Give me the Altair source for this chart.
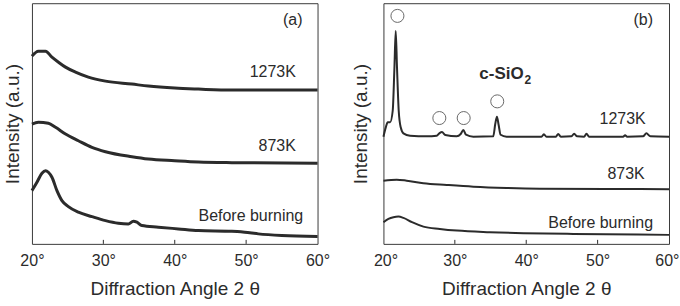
import altair as alt
import pandas as pd

FONT = "Liberation Sans"
INK = "#2b2b2b"

# ---------------- Panel (a) ----------------
a_1273_angle = [20.0, 20.9, 21.9, 22.8, 23.7, 24.7, 26.1, 27.9, 30.3, 34.0, 36.3, 40.0, 43.3, 48.0, 60.0]
a_1273_int = [188, 193, 193, 187, 182, 177, 172, 167, 163, 160, 158, 156, 155, 154, 154]

a_873_angle = [20.0, 20.9, 22.3, 23.3, 24.7, 26.5, 28.4, 30.3, 34.0, 36.3, 40.0, 43.3, 48.0, 60.0]
a_873_int = [120, 121.7, 120.7, 116.7, 110, 103.3, 96.7, 92.3, 87.3, 85, 83.3, 82, 81.3, 80.7]

a_bb_angle = [20.0, 20.7, 21.4, 21.9, 22.3, 22.8, 23.5, 24.2, 25.1, 26.5, 28.4, 30.3, 32.1, 33.5,
              34.2, 34.7, 35.4, 37.7, 40.5, 43.3, 48.0, 49.8, 51.7, 55.0, 60.0]
a_bb_int = [53.3, 61.7, 70.7, 73.3, 71.7, 66.7, 53.3, 43.3, 37.3, 31.7, 27.3, 23.3, 20.7, 20,
            22.7, 21.7, 18.3, 16.7, 15, 13.3, 12.7, 11.7, 10, 8.3, 7.3]

a_labels = ["1273K", "873K", "Before burning", "(a)"]
a_label_angle = [56.97, 56.97, 58.0, 57.9]
a_label_int = [167.3, 92.7, 22.7, 219]

# ---------------- Panel (b) ----------------
b_1273_angle = [20.0, 20.33, 20.6, 20.93, 21.3, 21.54, 21.72, 21.9, 22.14, 22.42, 22.8, 23.73, 26.06,
                27.46, 27.83, 28.2, 28.67, 30.26, 30.82, 31.19, 31.56, 32.59, 35.38, 35.66, 35.9,
                36.13, 36.41, 37.25, 42.14, 42.47, 42.84, 44.15, 44.48, 44.85, 46.34, 46.71, 47.13,
                48.11, 48.44, 48.81, 53.57, 53.85, 54.13, 56.36, 56.83, 57.39, 60.0]
b_1273_int = [107.3, 116.7, 121.7, 121.7, 133.3, 176.7, 213.3, 176.7, 133.3, 116.7, 110.7, 108.3, 107.7,
              108.3, 110.7, 112, 109, 107.7, 110, 114, 109.3, 107.3, 107.7, 120, 127.3,
              119.3, 109.3, 107.3, 107.3, 109.7, 107.3, 107.3, 110, 107.3, 107.7, 110.3, 107.7,
              107.3, 110.3, 107.3, 107.3, 108.7, 107.3, 107.7, 110.7, 107.7, 107.3]

b_873_angle = [20.0, 21.86, 23.26, 25.59, 28.86, 32.59, 37.25, 41.91, 51.24, 60.0]
b_873_int = [63.3, 64.3, 63.3, 60.7, 59, 57.3, 56, 55.3, 55, 54.7]

b_bb_angle = [20.0, 20.7, 21.4, 22.1, 22.8, 24.0, 25.6, 27.9, 30.3, 34.9, 39.6, 46.6, 60.0]
b_bb_int = [21.7, 25, 26.7, 27.3, 26, 21.7, 17.3, 15, 13.3, 11.7, 10.7, 10, 9]

b_labels = ["1273K", "873K", "Before burning", "(b)"]
b_label_angle = [56.74, 56.6, 57.76, 57.76]
b_label_int = [120, 65, 15.7, 219]

# c-SiO2 peak markers
circle_angle = [21.96, 27.83, 31.24, 35.94]
circle_int = [228.3, 126, 126, 142.7]

sio2_text = ["c-SiO"]
sio2_angle = [33.43]
sio2_int = [165]
sub_text = ["2"]
sub_angle = [39.75]
sub_int = [160.5]

tick_values = [20, 30, 40, 50, 60]
inner_ticks = [30, 40, 50]

W, H = 286, 241
Y_DOMAIN = [0, 241]


def series_df(pairs):
    rows = []
    for name, xs, ys in pairs:
        for x, y in zip(xs, ys):
            rows.append({"angle": x, "intensity": y, "series": name})
    return pd.DataFrame(rows)


def panel(curves, labels, lx, ly, stroke_w, title_pad, flush, flush_off, extra=None):
    df = series_df(curves)
    x_enc = alt.X("angle:Q", scale=alt.Scale(domain=[20, 60], nice=False, zero=False),
                  axis=alt.Axis(values=tick_values, labelExpr="datum.value + '°'",
                                title="Diffraction Angle 2 θ", tickSize=0, grid=False,
                                domain=False, labelPadding=9, titlePadding=11,
                                labelFlush=flush, labelFlushOffset=flush_off,
                                labelFontSize=16, titleFontSize=19,
                                labelFont=FONT, titleFont=FONT,
                                labelColor=INK, titleColor=INK, titleFontWeight="normal"))
    y_enc = alt.Y("intensity:Q", scale=alt.Scale(domain=Y_DOMAIN, nice=False, zero=False),
                  axis=alt.Axis(labels=False, ticks=False, grid=False, domain=False,
                                title="Intensity (a.u.)", titlePadding=title_pad,
                                titleFontSize=19, titleFont=FONT, titleColor=INK,
                                titleFontWeight="normal"))
    lines = alt.Chart(df).mark_line(color=INK, strokeWidth=stroke_w, interpolate="monotone").encode(
        x=x_enc, y=y_enc, detail="series:N")
    ldf = pd.DataFrame({"angle": lx, "intensity": ly, "label": labels})
    texts = alt.Chart(ldf).mark_text(align="right", baseline="alphabetic", fontSize=16,
                                     font=FONT, color=INK).encode(
        x="angle:Q", y="intensity:Q", text="label:N")
    tdf = pd.DataFrame({"angle": inner_ticks})
    ticks = alt.Chart(tdf).mark_rule(color=INK, strokeWidth=1).encode(
        x="angle:Q", y=alt.value(H), y2=alt.value(H - 4))
    layers = [lines, texts, ticks]
    if extra:
        layers += extra
    return alt.layer(*layers).properties(width=W, height=H)


cdf = pd.DataFrame({"angle": circle_angle, "intensity": circle_int})
circles = alt.Chart(cdf).mark_point(shape="circle", filled=False, size=170, color=INK,
                                    strokeWidth=1).encode(x="angle:Q", y="intensity:Q")
sdf = pd.DataFrame({"angle": sio2_angle, "intensity": sio2_int, "t": sio2_text})
sio2 = alt.Chart(sdf).mark_text(align="left", baseline="alphabetic", fontSize=17,
                                fontWeight="bold", font=FONT, color=INK).encode(
    x="angle:Q", y="intensity:Q", text="t:N")
subdf = pd.DataFrame({"angle": sub_angle, "intensity": sub_int, "t": sub_text})
sub = alt.Chart(subdf).mark_text(align="left", baseline="alphabetic", fontSize=12,
                                 fontWeight="bold", font=FONT, color=INK).encode(
    x="angle:Q", y="intensity:Q", text="t:N")

pa = panel([("1273K", a_1273_angle, a_1273_int), ("873K", a_873_angle, a_873_int),
            ("Before burning", a_bb_angle, a_bb_int)],
           a_labels, a_label_angle, a_label_int, 3, 9, False, 0)
pb = panel([("1273K", b_1273_angle, b_1273_int), ("873K", b_873_angle, b_873_int),
            ("Before burning", b_bb_angle, b_bb_int)],
           b_labels, b_label_angle, b_label_int, 2, 13, True, 10, extra=[circles, sio2, sub])

chart = alt.hconcat(pa, pb, spacing=20).properties(
    padding={"left": 3, "top": 2, "right": 0, "bottom": 0},
    background="white",
).configure_view(stroke="#3a3a3a", strokeWidth=1)

chart.save("out.html", embed_options={"renderer": "svg", "actions": False})
